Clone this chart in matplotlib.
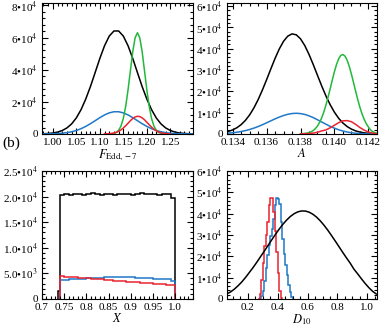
import numpy as np
import matplotlib
matplotlib.use('Agg')
import matplotlib.pyplot as plt
from matplotlib.ticker import MultipleLocator, AutoMinorLocator, FuncFormatter

plt.rcParams['font.family'] = ['Liberation Serif', 'DejaVu Serif']
plt.rcParams['mathtext.fontset'] = 'stix'
plt.rcParams['font.size'] = 8

c_black = '#000000'
c_blue = '#1f78c8'
c_green = '#22b83c'
c_red = '#ea2430'

# ---- panel 1: F_Edd,-7 ----
f_x = np.linspace(0.98, 1.30, 33)
f_black = [130, 280, 580, 1150, 2130, 3740, 6260, 9990, 15100, 21700, 29500,
           38200, 47000, 54900, 60900, 64100, 64100, 60900, 54900, 47000, 38200,
           29500, 21700, 15100, 9990, 6260, 3740, 2130, 1150, 580, 280, 130, 60]
f_blue = [30, 60, 125, 250, 460, 810, 1350, 2150, 3250, 4680, 6360, 8230, 10130,
          11830, 13120, 13810, 13810, 13120, 11830, 10130, 8230, 6360, 4680, 3250,
          2150, 1350, 810, 460, 250, 125, 60, 30, 10]
f_green_x = np.linspace(1.12, 1.24, 25)
f_green = [35, 115, 350, 930, 2250, 4930, 9680, 17150, 27400, 39400, 51200, 59800,
           63000, 59800, 51200, 39400, 27400, 17150, 9680, 4930, 2250, 930, 350, 115, 35]
f_red_x = np.linspace(1.11, 1.25, 29)
f_red = [36, 79, 160, 313, 575, 1000, 1630, 2530, 3700, 5110, 6670, 8230, 9590,
         10560, 10990, 10800, 10030, 8800, 7300, 5720, 4240, 2960, 1960, 1225, 725,
         405, 210, 105, 0]

# ---- panel 2: A ----
a_x = np.linspace(0.13375, 0.1425, 36)
a_black = [1180, 1890, 2920, 4380, 6360, 8940, 12190, 16090, 20570, 25460, 30540,
           35480, 39920, 43510, 45930, 46970, 46520, 44640, 41480, 37330, 32560,
           27500, 22490, 17820, 13680, 10170, 7320, 5100, 3450, 2260, 1430, 880,
           520, 300, 170, 90]
a_blue = [380, 560, 810, 1140, 1560, 2090, 2730, 3470, 4310, 5210, 6150, 7070, 7920,
          8650, 9220, 9580, 9700, 9550, 9150, 8500, 7650, 6650, 5600, 4550, 3550,
          2700, 1950, 1350, 900, 560, 340, 200, 110, 60, 30, 15]
a_green_x = np.linspace(0.138, 0.1425, 37)
a_green = [100, 160, 250, 400, 610, 1000, 1610, 2490, 3740, 5420, 7610, 10350, 13610,
           17300, 21300, 25400, 29280, 32680, 35290, 36870, 37280, 36490, 34550,
           31660, 28080, 24090, 20010, 16080, 12510, 9420, 6850, 4830, 3290, 1900,
           1100, 600, 300]
a_red_x = np.linspace(0.138, 0.1425, 19)
a_red = [30, 80, 190, 400, 790, 1420, 1900, 2900, 4100, 5300, 6150, 6250, 5740,
         4500, 3000, 1800, 900, 350, 100]

# ---- panel 3: X (histograms) ----
x_edges_black = np.concatenate([[0.735], np.linspace(0.74, 1.00, 27)])
x_black = [1500, 20300, 20500, 20400, 20600, 20450, 20350, 20550, 20700, 20500, 20400,
           20600, 20500, 20350, 20450, 20600, 20500, 20400, 20550, 20650, 20500,
           20450, 20500, 20400, 20550, 20600, 19800]
x_edges = np.linspace(0.74, 1.00, 27)
x_blue = [3700, 3750, 3800, 3850, 3900, 3950, 4000, 4050, 4100, 4150, 4200, 4250,
          4300, 4300, 4250, 4250, 4200, 4150, 4100, 4050, 4000, 3950, 3900, 3850,
          3800, 3500]
x_red = [4400, 4350, 4300, 4250, 4150, 4100, 4050, 3950, 3900, 3800, 3750, 3700,
         3600, 3550, 3500, 3400, 3350, 3300, 3200, 3150, 3100, 3000, 2950, 2900,
         2800, 2700]

# ---- panel 4: D10 ----
d_x = np.linspace(0.06, 1.06, 41)
d_black = [2400, 3300, 4600, 6200, 8000, 10100, 12400, 14700, 17200, 19790, 22400,
           25050, 27700, 30300, 32750, 35030, 37010, 38690, 39980, 40850, 41260,
           41220, 40710, 39750, 38380, 36630, 34570, 32280, 29770, 27180, 24540,
           21880, 19290, 16820, 14000, 11800, 9500, 7300, 5300, 3600, 2300]
d_blue_edges = np.linspace(0.28, 0.51, 24)
d_blue = [300, 1200, 3500, 8500, 14500, 20500, 25500, 29500, 33000, 37500, 44000,
          47500, 47000, 44500, 36000, 28000, 21000, 16000, 11000, 6500, 3200, 1000, 200]
d_red_edges = np.linspace(0.27, 0.43, 17)
d_red = [200, 2500, 9000, 17000, 25000, 30000, 36000, 44000, 47500, 47500, 41000,
         32000, 22000, 12000, 3500, 500]


def int_lab(v, pos):
    if v == 0:
        return '0'
    e = int(np.floor(np.log10(abs(v)) + 1e-9))
    return '%.0f\u202210$^{%d}$' % (v / 10 ** e, e)


def dec_lab(v, pos):
    if v == 0:
        return '0'
    e = int(np.floor(np.log10(abs(v)) + 1e-9))
    return '%.1f\u202210$^{%d}$' % (v / 10 ** e, e)


def trim_lab(v, pos):
    s = ('%.2f' % v).rstrip('0')
    if s.endswith('.'):
        s += '0'
    return s


def style(ax, nx=5, ny=5):
    ax.xaxis.set_minor_locator(AutoMinorLocator(nx))
    ax.yaxis.set_minor_locator(AutoMinorLocator(ny))
    ax.tick_params(which='both', direction='in', top=True, right=True, width=0.8)
    ax.tick_params(which='major', length=4, pad=3)
    ax.tick_params(which='minor', length=2)
    for s in ax.spines.values():
        s.set_linewidth(0.8)


fig = plt.figure(figsize=(3.82, 3.34), dpi=100)
lw = 1.1

ax1 = fig.add_axes([0.110, 0.599, 0.395, 0.391])
ax1.plot(f_x, f_black, color=c_black, lw=lw)
ax1.plot(f_x, f_blue, color=c_blue, lw=lw)
ax1.plot(f_green_x, f_green, color=c_green, lw=lw)
ax1.plot(f_red_x, f_red, color=c_red, lw=lw)
ax1.set_xlim(0.977, 1.298)
ax1.set_ylim(0, 8.13e4)
ax1.xaxis.set_major_locator(MultipleLocator(0.05))
ax1.xaxis.set_major_formatter(FuncFormatter(lambda v, p: '%.2f' % v))
ax1.yaxis.set_major_locator(MultipleLocator(2e4))
ax1.yaxis.set_major_formatter(FuncFormatter(int_lab))
ax1.set_xlabel(r'$F_{\rm Edd,-7}$', fontsize=9, labelpad=0)
style(ax1)

ax2 = fig.add_axes([0.594, 0.599, 0.393, 0.391])
ax2.plot(a_x, a_black, color=c_black, lw=lw)
ax2.plot(a_x, a_blue, color=c_blue, lw=lw)
ax2.plot(a_green_x, a_green, color=c_green, lw=lw)
ax2.plot(a_red_x, a_red, color=c_red, lw=lw)
ax2.set_xlim(0.13366, 0.14251)
ax2.set_ylim(0, 6.13e4)
ax2.xaxis.set_major_locator(MultipleLocator(0.002))
ax2.xaxis.set_major_formatter(FuncFormatter(lambda v, p: '%.3f' % v))
ax2.yaxis.set_major_locator(MultipleLocator(1e4))
ax2.yaxis.set_major_formatter(FuncFormatter(int_lab))
ax2.set_xlabel(r'$A$', fontsize=9, labelpad=0)
style(ax2, nx=4)

ax3 = fig.add_axes([0.110, 0.105, 0.395, 0.383])
ax3.stairs(x_black, x_edges_black, color=c_black, lw=lw)
ax3.stairs(x_blue, x_edges, color=c_blue, lw=lw)
ax3.stairs(x_red, x_edges, color=c_red, lw=lw)
ax3.set_xlim(0.70, 1.04)
ax3.set_ylim(0, 2.5e4)
ax3.xaxis.set_major_locator(MultipleLocator(0.05))
ax3.xaxis.set_major_formatter(FuncFormatter(trim_lab))
ax3.yaxis.set_major_locator(MultipleLocator(5e3))
ax3.yaxis.set_major_formatter(FuncFormatter(dec_lab))
ax3.set_xlabel(r'$X$', fontsize=9, labelpad=0)
style(ax3)

ax4 = fig.add_axes([0.594, 0.105, 0.393, 0.383])
ax4.plot(d_x, d_black, color=c_black, lw=lw)
ax4.stairs(d_blue, d_blue_edges, color=c_blue, lw=lw)
ax4.stairs(d_red, d_red_edges, color=c_red, lw=lw)
ax4.set_xlim(0.06, 1.065)
ax4.set_ylim(0, 6e4)
ax4.xaxis.set_major_locator(MultipleLocator(0.2))
ax4.xaxis.set_major_formatter(FuncFormatter(lambda v, p: '%.1f' % v))
ax4.yaxis.set_major_locator(MultipleLocator(1e4))
ax4.yaxis.set_major_formatter(FuncFormatter(int_lab))
ax4.set_xlabel(r'$D_{10}$', fontsize=9, labelpad=0)
style(ax4, nx=4)

fig.text(0.005, 0.572, '(b)', fontsize=11, va='center', ha='left')

fig.savefig('out.png', dpi=100)
